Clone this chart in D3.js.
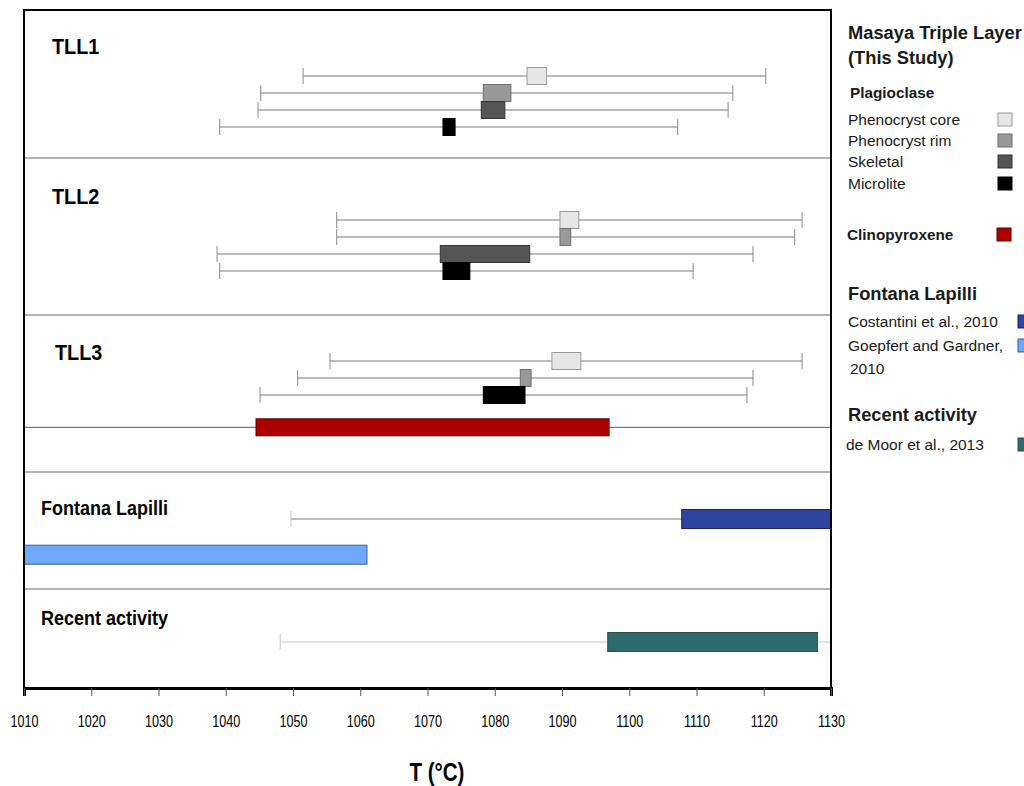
<!DOCTYPE html>
<html>
<head>
<meta charset="utf-8">
<script src="https://cdn.jsdelivr.net/npm/d3@7"></script>
<style>
  body { margin: 0; background: #fff; }
  svg { display: block; }
  text { font-family: "Liberation Sans", Arial, sans-serif; }
</style>
</head>
<body>
<div id="chart"></div>
<script>
// panels (top to bottom)
const panels = ['TLL1', 'TLL2', 'TLL3', 'Fontana Lapilli', 'Recent activity'];

// rows: panel, slot within panel, group, whisker low, box low, box high, whisker high (°C)
const tll1 = [
  { panel: 'TLL1', slot: 0, group: 'Phenocryst core', lo: 1051.5, q1: 1084.8, q3: 1087.7, hi: 1120.3 },
  { panel: 'TLL1', slot: 1, group: 'Phenocryst rim',  lo: 1045.2, q1: 1078.3, q3: 1082.4, hi: 1115.4 },
  { panel: 'TLL1', slot: 2, group: 'Skeletal',        lo: 1044.8, q1: 1078.0, q3: 1081.5, hi: 1114.7 },
  { panel: 'TLL1', slot: 3, group: 'Microlite',       lo: 1039.1, q1: 1072.3, q3: 1074.1, hi: 1107.2 }
];
const tll2 = [
  { panel: 'TLL2', slot: 0, group: 'Phenocryst core', lo: 1056.5, q1: 1089.7, q3: 1092.5, hi: 1125.7 },
  { panel: 'TLL2', slot: 1, group: 'Phenocryst rim',  lo: 1056.5, q1: 1089.7, q3: 1091.3, hi: 1124.6 },
  { panel: 'TLL2', slot: 2, group: 'Skeletal',        lo: 1038.7, q1: 1071.9, q3: 1085.2, hi: 1118.4 },
  { panel: 'TLL2', slot: 3, group: 'Microlite',       lo: 1039.1, q1: 1072.3, q3: 1076.3, hi: 1109.5 }
];
const tll3 = [
  { panel: 'TLL3', slot: 0,   group: 'Phenocryst core', lo: 1055.5, q1: 1088.5, q3: 1092.8, hi: 1125.7 },
  { panel: 'TLL3', slot: 1,   group: 'Phenocryst rim',  lo: 1050.7, q1: 1083.8, q3: 1085.4, hi: 1118.4 },
  { panel: 'TLL3', slot: 2,   group: 'Microlite',       lo: 1045.1, q1: 1078.3, q3: 1084.5, hi: 1117.5 },
  { panel: 'TLL3', slot: 3.9, group: 'Clinopyroxene',   lo: 1000,   q1: 1044.5, q3: 1097.0, hi: 1140 }
];
const fontana = [
  { panel: 'Fontana Lapilli', slot: 0,   group: 'Costantini et al., 2010',    lo: 1049.7, q1: 1107.8, q3: 1140,   hi: 1150 },
  { panel: 'Fontana Lapilli', slot: 2.1, group: 'Goepfert and Gardner, 2010', lo: null,   q1: 1000,   q3: 1061.0, hi: null }
];
const recent = [
  { panel: 'Recent activity', slot: 0, group: 'de Moor et al., 2013', lo: 1048.1, q1: 1096.8, q3: 1128.0, hi: 1140 }
];

const ticks = d3.range(1010, 1131, 10);

// colours
const fill = {
  'Phenocryst core': '#e6e6e6', 'Phenocryst rim': '#999999', 'Skeletal': '#555555', 'Microlite': '#000000',
  'Clinopyroxene': '#ad0000', 'Costantini et al., 2010': '#2d45a0',
  'Goepfert and Gardner, 2010': '#70a9fc', 'de Moor et al., 2013': '#2e6b6b'
};
const edge = {
  'Phenocryst core': '#9a9a9a', 'Phenocryst rim': '#6e6e6e', 'Skeletal': '#333333', 'Microlite': '#000000',
  'Clinopyroxene': '#5a0000', 'Costantini et al., 2010': '#1a2560',
  'Goepfert and Gardner, 2010': '#3d5f99', 'de Moor et al., 2013': '#3a4a4a'
};
const whiskerColor = { 'de Moor et al., 2013': '#c8c8c8' };

// layout
const W = 1024, H = 786;
const M = { left: 24, right: 831, top: 10, bottom: 688 };
const panelEdges = [10, 158, 315, 472, 589, 688];
const firstRow = { 'TLL1': 66, 'TLL2': 62, 'TLL3': 46, 'Fontana Lapilli': 47, 'Recent activity': 53 };
const labelPos = { 'TLL1': [52, 44], 'TLL2': [52, 46], 'TLL3': [55, 45], 'Fontana Lapilli': [41, 43], 'Recent activity': [41, 36] };
const slotH = 17;

// squeeze text horizontally (the original uses a condensed face)
function condense(sel, k) {
  sel.each(function () {
    const w = this.getComputedTextLength();
    d3.select(this).attr('textLength', w * k).attr('lengthAdjust', 'spacingAndGlyphs');
  });
}

const svg = d3.select('#chart').append('svg').attr('width', W).attr('height', H);

const x = d3.scaleLinear().domain([1010, 1130]).range([M.left, M.right]);
const rowY = d => panelEdges[panels.indexOf(d.panel)] + firstRow[d.panel] + d.slot * slotH;
const boxH = d => (d.panel === 'Fontana Lapilli' || d.panel === 'Recent activity') ? 19 : 17;

svg.append('defs').append('clipPath').attr('id', 'plot')
  .append('rect').attr('x', M.left).attr('y', M.top).attr('width', M.right - M.left).attr('height', M.bottom - M.top);

// panel separators
svg.append('g').selectAll('line')
  .data(panelEdges.slice(1, -1))
  .join('line')
  .attr('x1', M.left).attr('x2', M.right)
  .attr('y1', d => d).attr('y2', d => d)
  .attr('stroke', '#b3b3b3').attr('stroke-width', 2);

// panel labels
svg.append('g').selectAll('text')
  .data(panels)
  .join('text')
  .attr('x', d => labelPos[d][0])
  .attr('y', (d, i) => panelEdges[i] + labelPos[d][1])
  .attr('font-weight', 'bold')
  .attr('font-size', (d, i) => i < 3 ? 22 : 20)
  .text(d => d)
  .call(condense, 0.9);

const rows = [...tll1, ...tll2, ...tll3, ...fontana, ...recent];
const plot = svg.append('g').attr('clip-path', 'url(#plot)');

const r = plot.selectAll('g.row').data(rows).join('g').attr('class', 'row');

const wr = r.filter(d => d.lo != null);
wr.append('line')
  .attr('x1', d => x(d.lo)).attr('x2', d => x(d.hi))
  .attr('y1', d => rowY(d)).attr('y2', d => rowY(d))
  .attr('stroke', d => whiskerColor[d.group] || '#7a7a7a').attr('stroke-width', 1.2);
wr.selectAll('line.cap')
  .data(d => [d.lo, d.hi].map(v => ({ v, d })))
  .join('line')
  .attr('class', 'cap')
  .attr('x1', c => x(c.v)).attr('x2', c => x(c.v))
  .attr('y1', c => rowY(c.d) - 8).attr('y2', c => rowY(c.d) + 8)
  .attr('stroke', c => c.d.panel === 'Fontana Lapilli' || c.d.panel === 'Recent activity' ? '#c8c8c8' : '#8a8a8a')
  .attr('stroke-width', 1);

r.append('rect')
  .attr('x', d => x(d.q1))
  .attr('y', d => rowY(d) - boxH(d) / 2)
  .attr('width', d => x(d.q3) - x(d.q1))
  .attr('height', d => boxH(d))
  .attr('fill', d => fill[d.group])
  .attr('stroke', d => edge[d.group])
  .attr('stroke-width', 1);

// frame
svg.append('line').attr('x1', M.left).attr('x2', M.right).attr('y1', M.top).attr('y2', M.top)
  .attr('stroke', '#000').attr('stroke-width', 2);
svg.append('line').attr('x1', M.left).attr('x2', M.left).attr('y1', M.top - 1).attr('y2', M.bottom)
  .attr('stroke', '#000').attr('stroke-width', 2);
svg.append('line').attr('x1', M.right).attr('x2', M.right).attr('y1', M.top - 1).attr('y2', M.bottom)
  .attr('stroke', '#000').attr('stroke-width', 2);

// x axis
const xAxis = svg.append('g')
  .attr('transform', `translate(0,${M.bottom})`)
  .call(d3.axisBottom(x).tickValues(ticks).tickFormat(d3.format('d')).tickSize(8).tickPadding(19));
xAxis.select('.domain').attr('stroke', '#000').attr('stroke-width', 3);
xAxis.selectAll('.tick line').attr('stroke', '#555').attr('stroke-width', 1);
xAxis.selectAll('.tick text')
  .attr('font-size', 17)
  .attr('fill', '#000')
  .call(condense, 0.74);

svg.append('text')
  .attr('x', 437).attr('y', 781)
  .attr('text-anchor', 'middle')
  .attr('font-size', 25).attr('font-weight', 'bold')
  .text('T (°C)')
  .call(condense, 0.82);

// legend
const legend = [
  { text: 'Masaya Triple Layer', y: 39, size: 18.3, bold: true, x: 848 },
  { text: '(This Study)', y: 64, size: 18.3, bold: true, x: 848 },
  { text: 'Plagioclase', y: 98, size: 15.3, bold: true, x: 850 },
  { text: 'Phenocryst core', y: 125, size: 15.5, x: 848, key: 'Phenocryst core', sx: 998, sw: 14 },
  { text: 'Phenocryst rim', y: 146, size: 15.5, x: 848, key: 'Phenocryst rim', sx: 998, sw: 14 },
  { text: 'Skeletal', y: 167, size: 15.5, x: 848, key: 'Skeletal', sx: 998, sw: 14 },
  { text: 'Microlite', y: 189, size: 15.5, x: 848, key: 'Microlite', sx: 998, sw: 14 },
  { text: 'Clinopyroxene', y: 240, size: 15.3, bold: true, x: 847, key: 'Clinopyroxene', sx: 997, sw: 14 },
  { text: 'Fontana Lapilli', y: 300, size: 18.3, bold: true, x: 848 },
  { text: 'Costantini et al., 2010', y: 327, size: 15.5, x: 848, key: 'Costantini et al., 2010', sx: 1018, sw: 14 },
  { text: 'Goepfert and Gardner,', y: 351, size: 15.5, x: 848, key: 'Goepfert and Gardner, 2010', sx: 1018, sw: 14 },
  { text: '2010', y: 374, size: 15.5, x: 850 },
  { text: 'Recent activity', y: 421, size: 18.3, bold: true, x: 848 },
  { text: 'de Moor et al., 2013', y: 450, size: 15.5, x: 846, key: 'de Moor et al., 2013', sx: 1018, sw: 14 }
];
const lg = svg.append('g');
lg.selectAll('text').data(legend).join('text')
  .attr('x', d => d.x).attr('y', d => d.y)
  .attr('font-size', d => d.size)
  .attr('font-weight', d => d.bold ? 'bold' : 'normal')
  .attr('fill', '#1a1a1a')
  .text(d => d.text);
lg.selectAll('rect').data(legend.filter(d => d.key)).join('rect')
  .attr('x', d => d.sx).attr('y', d => d.y - 12)
  .attr('width', d => d.sw).attr('height', 13)
  .attr('fill', d => fill[d.key])
  .attr('stroke', d => edge[d.key]).attr('stroke-width', 1);
</script>
</body>
</html>
